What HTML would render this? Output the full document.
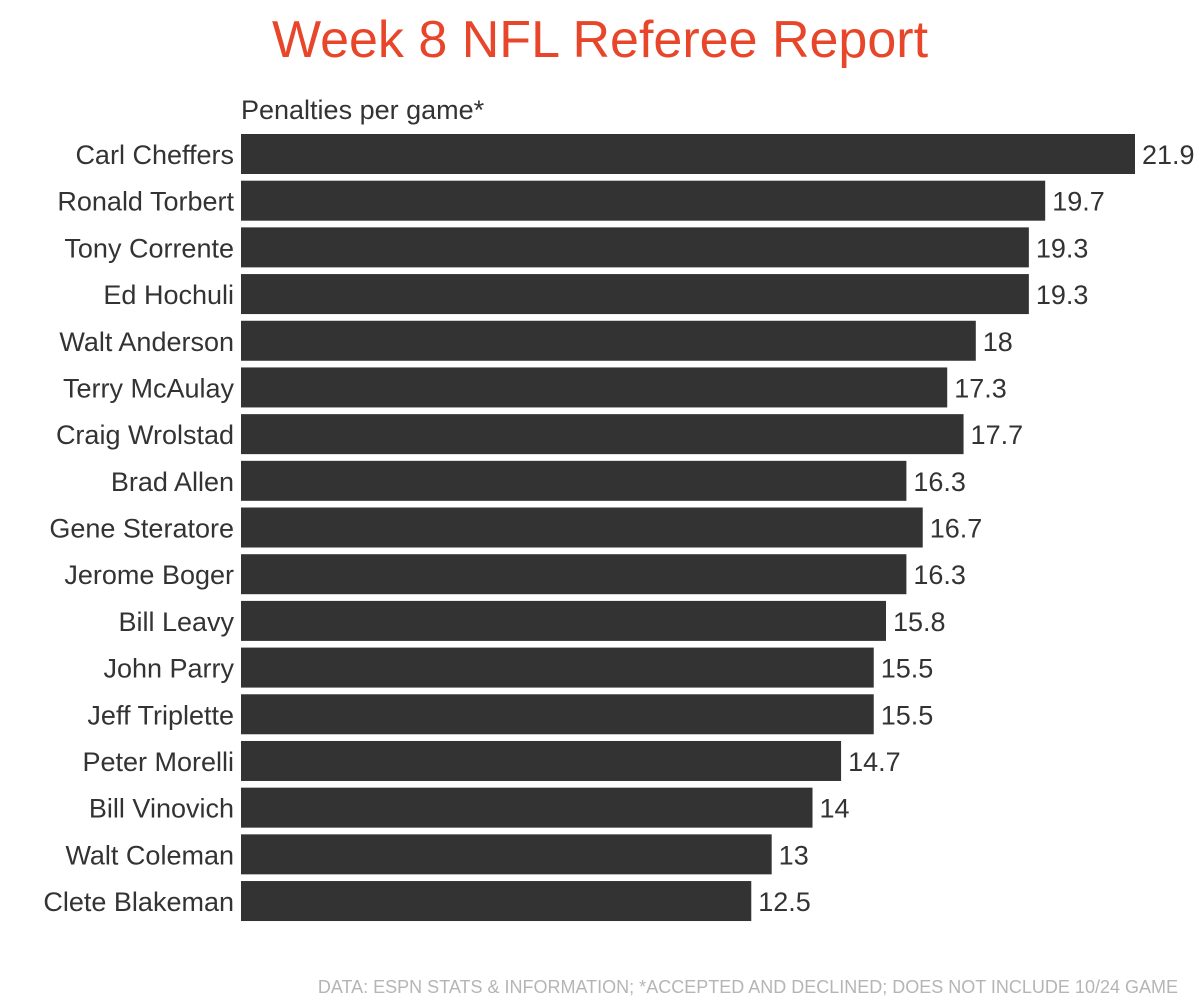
<!DOCTYPE html>
<html><head><meta charset="utf-8"><style>
body{margin:0;background:#fff;width:1200px;height:1002px;overflow:hidden;font-family:"Liberation Sans",sans-serif;}
svg text{font-family:"Liberation Sans",sans-serif;}
</style></head><body>
<svg id="chart" width="1200" height="1002" xmlns="http://www.w3.org/2000/svg">
<text x="600" y="57" text-anchor="middle" font-size="52" fill="#e8462a" style="font-family:'Liberation Sans Narrow','Liberation Sans',sans-serif">Week 8 NFL Referee Report</text>
<text x="241" y="119" font-size="27" fill="#333">Penalties per game*</text>
<g id="bars"></g>
<text x="1178" y="993" text-anchor="end" font-size="18" fill="#b5b5b5">DATA: ESPN STATS &amp; INFORMATION; *ACCEPTED AND DECLINED; DOES NOT INCLUDE 10/24 GAME</text>
</svg>
<script>
const referees = ["Carl Cheffers","Ronald Torbert","Tony Corrente","Ed Hochuli","Walt Anderson","Terry McAulay","Craig Wrolstad","Brad Allen","Gene Steratore","Jerome Boger","Bill Leavy","John Parry","Jeff Triplette","Peter Morelli","Bill Vinovich","Walt Coleman","Clete Blakeman"];
const penalties = [21.9,19.7,19.3,19.3,18,17.3,17.7,16.3,16.7,16.3,15.8,15.5,15.5,14.7,14,13,12.5];
const valueLabels = ["21.9","19.7","19.3","19.3","18","17.3","17.7","16.3","16.7","16.3","15.8","15.5","15.5","14.7","14","13","12.5"];
const NS="http://www.w3.org/2000/svg";
const x0=241, pxPerUnit=(1135-241)/21.9;
const xScale=v=>x0+v*pxPerUnit;
const yTop=134, step=46.69, barH=40;
const yScale=i=>yTop+i*step;
const g=document.getElementById('bars');
referees.forEach((name,i)=>{
  const y=yScale(i);
  const r=document.createElementNS(NS,'rect');
  
  
  r.setAttribute('x',x0);r.setAttribute('y',y);
  r.setAttribute('width',xScale(penalties[i])-x0);r.setAttribute('height',barH);
  r.setAttribute('fill','#333');
  g.appendChild(r);
  const t=document.createElementNS(NS,'text');
  
  
  t.setAttribute('x',234);t.setAttribute('y',y+barH/2+10);
  t.setAttribute('text-anchor','end');t.setAttribute('font-size','27');t.setAttribute('fill','#333');
  t.textContent=name;g.appendChild(t);
  const v=document.createElementNS(NS,'text');
  
  
  v.setAttribute('x',xScale(penalties[i])+7);v.setAttribute('y',y+barH/2+10);
  v.setAttribute('font-size','27');v.setAttribute('fill','#333');
  v.textContent=valueLabels[i];g.appendChild(v);
});
</script>
</body></html>
